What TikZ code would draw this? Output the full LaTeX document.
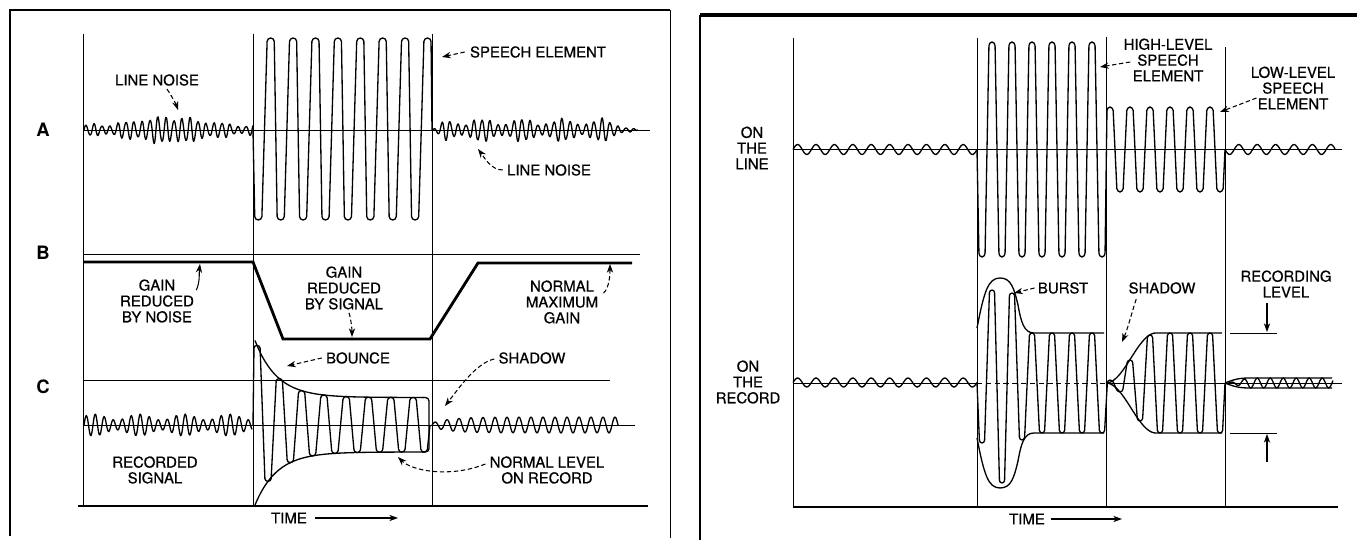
\documentclass[tikz,border=0pt]{standalone}
\usepackage{fontspec}
\setmainfont{TeX Gyre Heros}
\newfontfamily\lettering[FakeBold=0.6]{TeX Gyre Heros}
\usetikzlibrary{arrows.meta,calc}

\begin{document}
\begin{tikzpicture}[x=0.02cm,y=-0.02cm,
  wave/.style={line width=0.75pt,line join=round},
  thinln/.style={line width=0.5pt},
  heavy/.style={line width=1.6pt},
  lbl/.style={font=\lettering\fontsize{8.5}{9}\selectfont,align=center,inner sep=0pt},
  letter/.style={font=\fontsize{10.5}{12}\selectfont\bfseries,inner sep=0pt},
  ptr/.style={-{Stealth[length=5pt,width=3.6pt]},dash pattern=on 2.5pt off 1.5pt,line width=0.6pt},
  sptr/.style={-{Stealth[length=5pt,width=3.6pt]},line width=0.6pt}]
\useasboundingbox (0,0) rectangle (1357,540);

% ---- left panel: frame and grid
\draw[line width=1.7pt] (10,536) -- (10,10) -- (670,10);
\draw[thinln] (670,10) -- (670,538);
\foreach \xv in {83,253,432}{\draw[thinln] (\xv,34) -- (\xv,506);}
\draw[line width=1pt] (78,506) -- (648,506);
\node[letter] (lA) at (43,130) {A};
\node[letter] (lB) at (43,253) {B};
\node[letter] (lC) at (43,387) {C};

% A: line noise and speech element
\draw[thinln] (83,130) -- (650,130);
\draw[wave] plot[domain=0:169,samples=220,smooth] ({\x+84},{130-(4+8*exp(-(((\x-85)/45)^2))+1.5*sin(11*\x))*(sin(45*\x)+0.12*sin(75*\x+20))});
\draw[wave] plot[domain=0:206,samples=260,smooth] ({\x+432},{130-(8+3*sin(9*\x))*min(1,\x/15)*min(1,(206-\x)/30)*(sin(45*\x)+0.12*sin(70*\x+40))});
\draw[wave,rounded corners=2pt] (253,130) \foreach \k in {0,...,7}{ -- ({254.8+22.4*\k},220) -- ({261.8+22.4*\k},220) -- ({267.2+22.4*\k},38) -- ({274.2+22.4*\k},38)} -- (432,130);
\node[lbl] (noiseAL) at (157,80) {LINE NOISE};
\coordinate (noiseALpk) at (178,110);
\draw[ptr] ($(noiseAL.south)+(10,3)$) .. controls +(4,6) and +(-2,-6) .. (noiseALpk);
\node[lbl] (speechA) at (538,52) {SPEECH ELEMENT};
\coordinate (speechAtip) at (442,57);
\draw[ptr] ($(speechA.west)+(-5,0)$) -- (speechAtip);
\node[lbl] (noiseAR) at (549,170) {LINE NOISE};
\coordinate (noiseARtr) at (478,149);
\draw[ptr] ($(noiseAR.west)+(-4,0)$) .. controls +(-12,0) and +(6,8) .. (noiseARtr);

% B: gain
\draw[thinln] (83,254) -- (640,254);
\draw[heavy] (83,262) -- (253,262) -- (283,339) -- (430,339) -- (478,263) -- (632,263);
\node[lbl] (gainN) at (157,301) {GAIN\\REDUCED\\BY NOISE};
\coordinate (gainNtip) at (200,264);
\draw[sptr] ($(gainN.north east)+(2,11)$) .. controls +(4,-8) and +(-1,8) .. (gainNtip);
\node[lbl] (gainS) at (344,288) {GAIN\\REDUCED\\BY SIGNAL};
\coordinate (gainStip) at (352,337);
\draw[ptr] ($(gainS.south)+(5,3)$) .. controls +(2,6) and +(0,-8) .. (gainStip);
\node[lbl] (gainM) at (562,302) {NORMAL\\MAXIMUM\\GAIN};
\coordinate (gainMtip) at (610,264);
\draw[ptr] ($(gainM.north east)+(5,13)$) .. controls +(6,-5) and +(0,10) .. (gainMtip);

% C: recorded signal
\draw[thinln] (83,380) -- (610,380);
\draw[thinln] (83,425) -- (635,425);
\draw[wave] plot[domain=0:168,samples=220,smooth] ({\x+84},{425-(8+3*sin(8*\x+10))*sin(40*\x)});
\draw[wave] plot[domain=0:186,samples=200,smooth] ({\x+432},{425-(8-6*exp(-\x/18))*sin(30*\x)});
\draw[wave] plot[domain=255:424,samples=50,smooth] (\x,{397.5-57*exp(-(\x-255)/22)});
\draw[wave] plot[domain=255:424,samples=50,smooth] (\x,{452+53*exp(-(\x-255)/22)});
\draw[wave,rounded corners=2pt] (422,397.5) -- (429,397.5) -- (429,452) -- (422,452);
\draw[wave,rounded corners=1.6pt] (253,425) \foreach \k in {0,...,7}{ -- ({254+22.3*\k},{397.5-57*exp(-(2+22.3*\k)/22)}) -- ({260+22.3*\k},{397.5-57*exp(-(2+22.3*\k)/22)}) -- ({265+22.3*\k},{452+53*exp(-(13+22.3*\k)/22)}) -- ({271+22.3*\k},{452+53*exp(-(13+22.3*\k)/22)})} -- (430,425);
\node[lbl] (bounce) at (358,358) {BOUNCE};
\coordinate (bouncetip) at (287,366);
\draw[ptr] ($(bounce.west)+(-4,0)$) -- (bouncetip);
\node[lbl] (shadowL) at (532,358) {SHADOW};
\coordinate (shadowLtip) at (445,406);
\draw[ptr] ($(shadowL.west)+(-4,1)$) .. controls +(-18,4) and +(14,-18) .. (shadowLtip);
\node[lbl] (normrec) at (547,470) {NORMAL LEVEL\\ON RECORD};
\coordinate (normrectip) at (398,457);
\draw[ptr] ($(normrec.west)+(-4,-6)$) .. controls +(-35,14) and +(14,14) .. (normrectip);
\node[lbl] (recsig) at (155,470) {RECORDED\\SIGNAL};
\node[lbl] (timeL) at (289,518) {TIME};
\coordinate (timeLend) at (398,518);
\draw[sptr] ($(timeL.east)+(8,0)$) -- (timeLend);

% ---- right panel: frame and grid
\draw[line width=2.5pt] (700,15) -- (1357,15);
\draw[line width=1.2pt] (700,15) -- (700,540);
\foreach \xv/\yt in {793/38,977/38,1106/37,1225/47}{\draw[thinln] (\xv,\yt) -- (\xv,507);}
\draw[line width=1pt] (793,507) -- (1338,507);

% on the line
\node[lbl] (online) at (752,148) {ON\\THE\\LINE};
\draw[thinln] (793,149.5) -- (1342,149.5);
\draw[wave] plot[domain=0:184,samples=150,smooth] ({\x+793},{149.5-5*sin(19.565*\x)});
\draw[wave] plot[domain=0:110,samples=90,smooth] ({\x+1225},{149.5+5*sin(19.565*\x)});
\draw[wave,rounded corners=2pt] (977,149.5) \foreach \k in {0,...,5}{ -- ({979+20*\k},257) -- ({985+20*\k},257) -- ({989+20*\k},42) -- ({995+20*\k},42)} -- (1099,257) -- (1105,257) \foreach \k in {0,...,5}{ -- ({1107+20*\k},107) -- ({1113+20*\k},107) -- ({1117+20*\k},192) -- ({1123+20*\k},192)} -- (1225,149.5);
\node[lbl] (hilev) at (1168,60) {HIGH-LEVEL\\SPEECH\\ELEMENT};
\coordinate (hilevtip) at (1100,67);
\draw[ptr] ($(hilev.west)+(7,2)$) -- (hilevtip);
\node[lbl] (lolev) at (1293,88) {LOW-LEVEL\\SPEECH\\ELEMENT};
\coordinate (lolevtip) at (1220,112);
\draw[ptr] ($(lolev.west)+(6,10)$) -- (lolevtip);

% on the record
\node[lbl] (onrec) at (748,382) {ON\\THE\\RECORD};
\draw[thinln] (793,383) -- (977,383);
\draw[thinln,dash pattern=on 3pt off 2pt] (977,383) -- (1106,383);
\draw[thinln] (1106,383) -- (1342,383);
\draw[wave] plot[domain=0:184,samples=150,smooth] ({\x+793},{382.5-4.5*sin(19.565*\x)});
\draw[wave] (977,328) .. controls (984,292) and (988,278) .. (1000,278) .. controls (1011,278) and (1014,288) .. (1018,305) .. controls (1021,322) and (1024,333) .. (1034,333) -- (1104,333);
\draw[wave] (977,438) .. controls (984,474) and (988,488) .. (1000,488) .. controls (1011,488) and (1014,478) .. (1018,461) .. controls (1021,444) and (1024,433) .. (1034,433) -- (1104,433);
\draw[wave] plot[domain=1106:1156,samples=30,smooth] (\x,{383-25*(1-cos(3.6*(\x-1106)))}) -- (1222,333);
\draw[wave] plot[domain=1106:1156,samples=30,smooth] (\x,{383+25*(1-cos(3.6*(\x-1106)))}) -- (1222,433);
\draw[wave,rounded corners=1.5pt] (977,383) \foreach \xx/\yy in {982/443,992/290,1002/483,1012/293,1022/440,1032/333,1042/433,1052/333,1062/433,1072/333,1082/433,1092/333,1102/433,1110/380,1120/392,1130/360,1140/421,1150/335,1160/433,1170/333,1180/433,1190/333,1200/433,1210/333,1220/433}{ -- ({\xx-2.5},\yy) -- ({\xx+2.5},\yy)} -- (1225,383);
\draw[wave] (1225,383) .. controls (1235,379) and (1240,378) .. (1250,378) -- (1332,378);
\draw[wave] (1225,383) .. controls (1235,387) and (1240,388) .. (1250,388) -- (1332,388);
\draw[wave] plot[domain=0:105,samples=90] ({\x+1228},{383-5*sin(27.7*\x)*min(1,\x/20)});
\node[lbl] (burst) at (1063,288) {BURST};
\coordinate (bursttip) at (1014,293);
\draw[ptr] ($(burst.west)+(-3,0)$) -- (bursttip);
\node[lbl] (shadowR) at (1162,288) {SHADOW};
\coordinate (shadowRtip) at (1122,342);
\draw[ptr] ($(shadowR.south west)+(8,5)$) .. controls +(-4,12) and +(6,-14) .. (shadowRtip);
\draw[thinln] (1230,333) -- (1277,333);
\draw[thinln] (1230,433) -- (1277,433);
\node[lbl] (reclev) at (1286,284) {RECORDING\\LEVEL};
\coordinate (reclevT) at (1267,303);
\coordinate (reclevTtip) at (1267,332);
\coordinate (reclevB) at (1267,462);
\coordinate (reclevBtip) at (1267,434);
\draw[sptr] (reclevT) -- (reclevTtip);
\draw[sptr] (reclevB) -- (reclevBtip);
\node[lbl] (timeR) at (1027,519) {TIME};
\coordinate (timeRend) at (1122,519);
\draw[sptr] ($(timeR.east)+(6,0)$) -- (timeRend);
\end{tikzpicture}
\end{document}
